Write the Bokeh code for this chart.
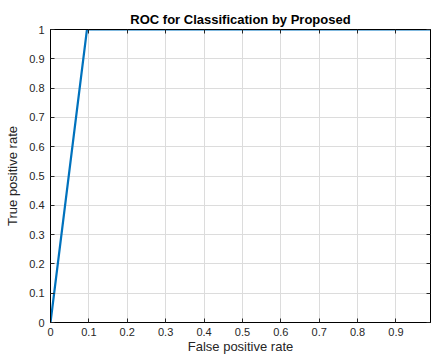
from bokeh.plotting import figure
from bokeh.models import LinearAxis, FixedTicker, Range1d
from bokeh.embed import file_html
from bokeh.resources import INLINE

fpr = [0.0, 0.095, 1.0]
tpr = [0.0, 1.0, 1.0]
x_ticks = [0, 0.1, 0.2, 0.3, 0.4, 0.5, 0.6, 0.7, 0.8, 0.9]
y_ticks = [0, 0.1, 0.2, 0.3, 0.4, 0.5, 0.6, 0.7, 0.8, 0.9, 1]

FONT = "Liberation Sans"
TXT = "#262626"

p = figure(width=431, height=356, output_backend="svg", toolbar_location=None,
           x_range=Range1d(0, 0.99), y_range=Range1d(0, 1),
           min_border_left=50, min_border_right=1, min_border_top=29, min_border_bottom=33,
           title="ROC for Classification by Proposed")
p.title.align = "center"
p.title.text_font = FONT
p.title.text_font_size = "13px"
p.title.text_font_style = "bold"
p.title.text_color = "black"
p.title.standoff = 6

p.outline_line_color = "black"
p.outline_line_width = 1
p.background_fill_color = "white"
p.border_fill_color = "white"

for ax in p.xaxis + p.yaxis:
    ax.major_tick_in = 4
    ax.major_tick_out = 0
    ax.minor_tick_line_color = None
    ax.axis_line_color = "black"
    ax.major_tick_line_color = TXT
    ax.major_label_text_font = FONT
    ax.major_label_text_font_size = "11px"
    ax.major_label_text_color = TXT
    ax.axis_label_text_font = FONT
    ax.axis_label_text_font_size = "13px"
    ax.axis_label_text_font_style = "normal"
    ax.axis_label_text_color = TXT

p.xaxis.ticker = FixedTicker(ticks=x_ticks)
p.yaxis.ticker = FixedTicker(ticks=y_ticks)
p.xaxis.axis_label = "False positive rate"
p.yaxis.axis_label = "True positive rate"
p.xaxis.major_label_standoff = 5
p.yaxis.major_label_standoff = 6
p.xaxis.axis_label_standoff = 0
p.yaxis.axis_label_standoff = 6

top = LinearAxis(ticker=FixedTicker(ticks=x_ticks),
                 major_label_overrides={t: "" for t in x_ticks},
                 major_tick_in=4, major_tick_out=0, minor_tick_line_color=None,
                 axis_line_color="black", major_tick_line_color=TXT)
right = LinearAxis(ticker=FixedTicker(ticks=y_ticks),
                   major_label_overrides={t: "" for t in y_ticks},
                   major_tick_in=4, major_tick_out=0, minor_tick_line_color=None,
                   axis_line_color="black", major_tick_line_color=TXT)
p.add_layout(top, "above")
p.add_layout(right, "right")

p.xgrid.ticker = FixedTicker(ticks=x_ticks)
p.ygrid.ticker = FixedTicker(ticks=y_ticks)
p.grid.grid_line_color = "#dcdcdc"
p.grid.grid_line_width = 1

p.line(fpr, tpr, line_color="#0072BD", line_width=2.2)

open("out.html", "w").write(file_html(p, INLINE))
